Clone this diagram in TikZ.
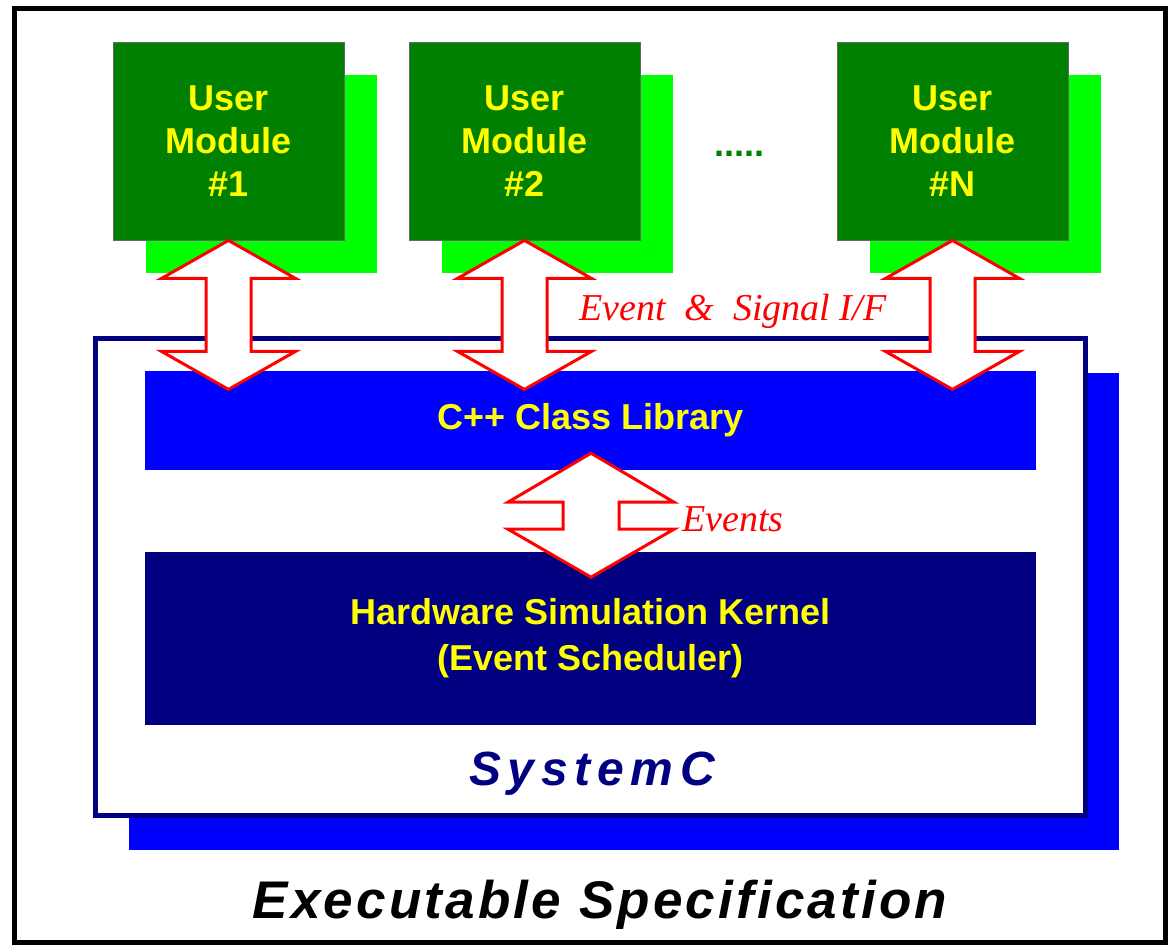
\documentclass[tikz,border=0pt]{standalone}
\usepackage{fontspec}
\setmainfont{Liberation Serif}
\setsansfont{Liberation Sans}
\usetikzlibrary{calc,shadows}
\definecolor{dkgreen}{HTML}{008000}
\definecolor{ltgreen}{HTML}{00FF00}
\definecolor{myblue}{HTML}{0000FF}
\definecolor{mynavy}{HTML}{000080}
\definecolor{myyellow}{HTML}{FFFF00}
\definecolor{myred}{HTML}{FF0000}
\begin{document}
\begin{tikzpicture}[x=1pt,y=-1pt,
  module/.style={fill=dkgreen, draw=black!60, line width=0.8pt,
    minimum width=231pt, minimum height=198pt, inner sep=0pt,
    text=myyellow, align=center,
    font=\sffamily\bfseries\fontsize{36}{43}\selectfont,
    general shadow={fill=ltgreen, shadow xshift=33pt, shadow yshift=-33pt}},
  barbox/.style={minimum width=891pt, inner sep=0pt, text=myyellow, align=center,
    font=\sffamily\bfseries\fontsize{36}{46}\selectfont},
  scbox/.style={draw=mynavy, fill=white, line width=5pt,
    minimum width=990pt, minimum height=477pt, inner sep=0pt,
    general shadow={fill=myblue, shadow xshift=34pt, shadow yshift=-35pt}},
  blockarrow/.style={draw=myred, fill=white, line width=3pt, line join=miter},
  redlabel/.style={text=myred, inner sep=0pt, font=\itshape\fontsize{38}{44}\selectfont}
]
\useasboundingbox (0,0) rectangle (1170,946);
\fill[white] (0,0) rectangle (1170,946);
% outer frame
\draw[line width=5pt] (14.5,8.5) rectangle (1165,942.5);

% SystemC box
\node[scbox] (sc) at (590,576.5) {};
\node[barbox, fill=myblue, minimum height=99pt] (lib) at (590.5,420.5) {C++ Class Library};
\node[barbox, fill=mynavy, minimum height=173pt] (kern) at (590.5,638.5)
  {Hardware Simulation Kernel\\(Event Scheduler)};
\node[text=mynavy, inner sep=0pt, anchor=base,
  font=\sffamily\bfseries\itshape\fontsize{48}{56}\selectfont\addfontfeature{LetterSpace=14}]
  (sctext) at (592,785) {SystemC};

% modules
\node[module] (m1) at (228.5,141) {User\\Module\\\#1};
\node[module] (m2) at (524.5,141) {User\\Module\\\#2};
\node[module] (mN) at (952.5,141) {User\\Module\\\#N};
\node[text=dkgreen, inner sep=0pt, anchor=base,
  font=\sffamily\bfseries\fontsize{36}{43}\selectfont] (dots) at (739,156) {.....};

% block arrows
\foreach \m in {m1,m2,mN}{
  \draw[blockarrow] (\m.south) -- ++(67,38) -- ++(-44.5,0) -- ++(0,73) -- ++(44.5,0)
    -- ++(-67,38) -- ++(-67,-38) -- ++(44.5,0) -- ++(0,-73) -- ++(-44.5,0) -- cycle;
}
\draw[blockarrow] ($(lib.south)+(0.5,-17)$) -- ++(83,49) -- ++(-55,0) -- ++(0,27) -- ++(55,0)
  -- ++(-83,48) -- ++(-83,-48) -- ++(55,0) -- ++(0,-27) -- ++(-55,0) -- cycle;

\node[redlabel, anchor=base west] (ifl) at (579,320) {Event\ \ \&\ \ Signal I/F};
\node[redlabel, anchor=base west] (evl) at (682,531) {Events};

\node[inner sep=0pt, anchor=base,
  font=\sffamily\bfseries\itshape\fontsize{53}{60}\selectfont\addfontfeature{LetterSpace=6}]
  (exec) at (600,918) {Executable Specification};
\end{tikzpicture}
\end{document}
